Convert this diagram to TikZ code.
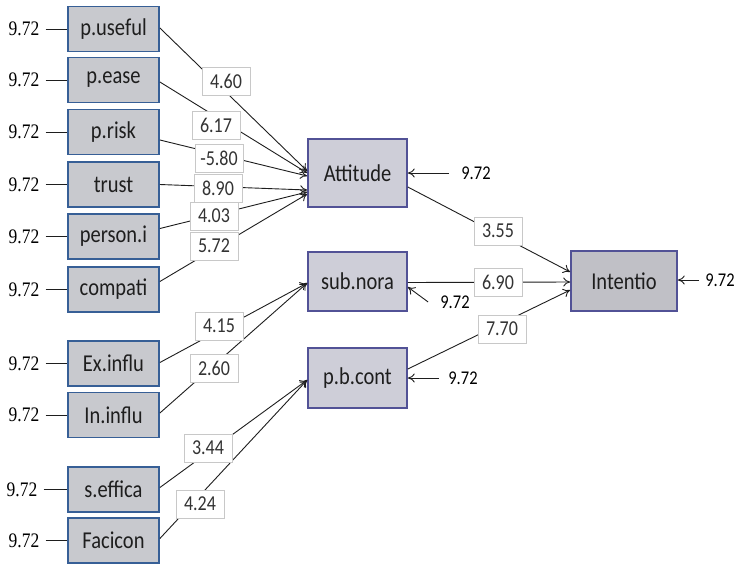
\documentclass[tikz,border=0pt]{standalone}
\usepackage{fontspec}
\setmainfont{Carlito}
\newfontfamily\sernum{Liberation Serif}
\usetikzlibrary{arrows.meta,calc}
\newcommand{\vst}[1]{\scalebox{1}[1.18]{#1}}
\definecolor{lborder}{RGB}{55,95,150}
\definecolor{mborder}{RGB}{82,82,150}
\definecolor{lfill}{RGB}{200,201,206}
\definecolor{mfill}{RGB}{206,206,216}
\definecolor{ifill}{RGB}{192,192,198}
\definecolor{cline}{RGB}{200,200,200}
\definecolor{ink}{RGB}{30,30,30}
\tikzset{
  lbox/.style={draw=lborder, line width=1.8pt, fill=lfill, minimum width=91pt, minimum height=45pt, inner sep=0pt, font=\fontsize{20.5}{20.5}\selectfont, text=ink},
  mbox/.style={draw=mborder, line width=1.6pt, fill=mfill, minimum width=99pt, inner sep=0pt, font=\fontsize{20.5}{20.5}\selectfont, text=ink},
  cbox/.style={draw=cline, line width=0.6pt, fill=white, minimum width=48pt, minimum height=28pt, inner sep=2pt, font=\fontsize{18}{18}\selectfont, text=black!80},
  lerr/.style={font=\sernum\fontsize{17.5}{17.5}\selectfont, inner sep=0pt},
  rerr/.style={font=\fontsize{16.5}{16.5}\selectfont, inner ysep=0pt},
  conn/.style={draw=ink, line width=0.9pt},
  arr/.style={conn, -{To[length=7pt,width=9pt]}},
  eline/.style={draw=ink, line width=1pt}
}
\begin{document}
\begin{tikzpicture}[x=1pt,y=-1pt]
\fill[white] (0,0) rectangle (736,563);
\path[use as bounding box] (0,0) rectangle (736,563);

% left boxes
\node[lbox] (pu) at (113.5,29) {\vst{p.useful}};
\node[lbox] (pe) at (113.5,80) {\vst{p.ease}};
\node[lbox] (pr) at (113.5,132) {\vst{p.risk}};
\node[lbox] (tr) at (113.5,184.5) {\vst{trust}};
\node[lbox] (pi) at (113.5,236.5) {\vst{person.i}};
\node[lbox] (co) at (113.5,289.5) {\vst{compati}};
\node[lbox] (ex) at (113.5,363.5) {\vst{Ex.influ}};
\node[lbox] (in) at (113.5,415) {\vst{In.influ}};
\node[lbox] (se) at (113.5,489.5) {\vst{s.effica}};
\node[lbox] (fa) at (113.5,540.5) {\vst{Facicon}};

% middle boxes
\node[mbox, minimum height=68pt] (att) at (357.5,173) {\vst{Attitude}};
\node[mbox, minimum height=59pt] (sub) at (357.5,281.5) {\vst{sub.nora}};
\node[mbox, minimum height=60pt] (pbc) at (357.5,378) {\vst{p.b.cont}};
\node[mbox, fill=ifill, minimum width=106pt, minimum height=60pt] (int) at (624,281) {\vst{Intentio}};

% left error terms
\foreach \b/\y/\x in {pu/29/24, pe/80/24, pr/132/24, tr/184.5/24, pi/236.5/24, co/289.5/24, ex/363.5/24, in/415/24, se/489.5/22, fa/540.5/24}{
  \node[lerr] (e\b) at (\x,\y) {\vst{9.72}};
  \draw[eline] ([xshift=6pt]e\b.east) -- (\b.west);
}

% right error terms
\node[rerr, inner xsep=12pt] (eatt) at (476,173) {\vst{9.72}};
\draw[arr] (eatt.west) -- (att.east);
\node[rerr, inner xsep=12pt] (esub) at (455,302) {\vst{9.72}};
\draw[arr] (esub.west) -- ([yshift=-5.5pt]sub.east);
\node[rerr, inner xsep=9pt] (epbc) at (463,378) {\vst{9.72}};
\draw[arr] (epbc.west) -- (pbc.east);
\node[rerr, inner xsep=6pt] (eint) at (720,280) {\vst{9.72}};
\draw[arr] (eint.west) -- ([yshift=1pt]int.east);

% paths to Attitude
\draw[arr] ([yshift=1pt]pu.east) -- ([yshift=2pt]att.west);
\draw[arr] ([yshift=-2pt]pe.east) -- ([yshift=0pt]att.west);
\draw[arr] ([yshift=-8pt]pr.east) -- ([yshift=-3pt]att.west);
\draw[arr] (tr.east) -- ([yshift=-17pt]att.west);
\draw[arr] ([yshift=8pt]pi.east) -- ([yshift=-19pt]att.west);
\draw[arr] ([yshift=8pt]co.east) -- ([yshift=-21pt]att.west);
% paths to sub.nora
\draw[arr] ([yshift=1pt]ex.east) -- ([yshift=-1.5pt]sub.west);
\draw[arr] ([yshift=2pt]in.east) -- ([yshift=-1.5pt]sub.west);
% paths to p.b.cont
\draw[arr] ([yshift=2pt]se.east) -- ([yshift=-2pt]pbc.west);
\draw[arr] ([yshift=2pt]fa.east) -- ([yshift=-2pt]pbc.west);
% paths to Intentio
\draw[arr] ([yshift=-14pt]att.east) -- ([yshift=9pt]int.west);
\draw[arr] ([yshift=-1pt]sub.east) -- ([yshift=-1pt]int.west);
\draw[arr] ([yshift=9pt]pbc.east) -- ([yshift=-9pt]int.west);

% coefficient labels
\node[cbox] (c1) at (226,81) {\vst{4.60}};
\node[cbox] (c2) at (216,125) {\vst{6.17}};
\node[cbox] (c3) at (219,158) {\vst{-5.80}};
\node[cbox] (c4) at (218,188) {\vst{8.90}};
\node[cbox] (c5) at (214,216) {\vst{4.03}};
\node[cbox] (c6) at (214,246) {\vst{5.72}};
\node[cbox] (c7) at (219,326) {\vst{4.15}};
\node[cbox] (c8) at (214,368) {\vst{2.60}};
\node[cbox] (c9) at (208,448) {\vst{3.44}};
\node[cbox] (c10) at (200,504) {\vst{4.24}};
\node[cbox] (c11) at (498,231) {\vst{3.55}};
\node[cbox] (c12) at (498,282) {\vst{6.90}};
\node[cbox] (c13) at (502,329) {\vst{7.70}};
\end{tikzpicture}
\end{document}
